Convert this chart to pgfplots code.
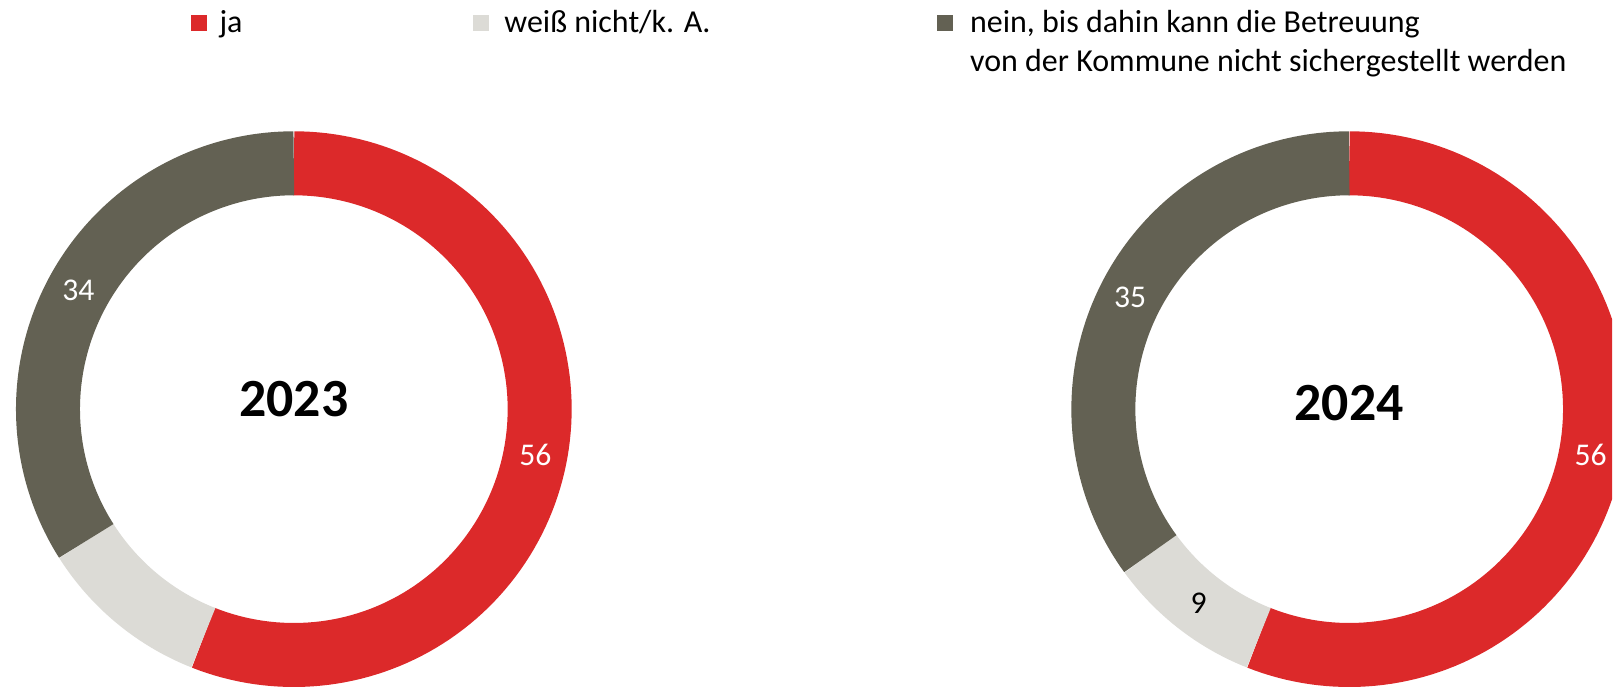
\documentclass[border=0pt]{standalone}
\usepackage{pgfplots}
\pgfplotsset{compat=1.18}
\usepackage{pgfplotstable}
\usepackage{fontspec}
\setmainfont{Carlito}
\definecolor{ja}{RGB}{220,41,42}
\definecolor{wn}{RGB}{220,219,214}
\definecolor{nein}{RGB}{99,97,83}

\pgfplotstableread{
cat y2023 y2024
ja 56 56
wn 10 9
nein 34 35
}\donutdata

\newcommand\getval[3]{\pgfplotstablegetelem{#1}{#2}\of\donutdata\xdef#3{\pgfplotsretval}}

\begin{document}
\begin{tikzpicture}
\getval{0}{y2023}\aJa \getval{1}{y2023}\aWn \getval{2}{y2023}\aNein
\getval{0}{y2024}\bJa \getval{1}{y2024}\bWn \getval{2}{y2024}\bNein
\pgfmathsetmacro\aB{3.6*\aJa}\pgfmathsetmacro\aC{3.6*(\aJa+\aWn)}\pgfmathsetmacro\aD{3.6*(\aJa+\aWn+\aNein)}
\pgfmathsetmacro\bB{3.6*\bJa}\pgfmathsetmacro\bC{3.6*(\bJa+\bWn)}\pgfmathsetmacro\bD{3.6*(\bJa+\bWn+\bNein)}
\pgfmathsetmacro\amJa{\aB/2}\pgfmathsetmacro\amNein{(\aC+\aD)/2}
\pgfmathsetmacro\bmJa{\bB/2}\pgfmathsetmacro\bmWn{(\bB+\bC)/2}\pgfmathsetmacro\bmNein{(\bC+\bD)/2}
\def\R{246}
\def\cxa{294}\def\cxb{1350}\def\cy{279}
\begin{axis}[x=0.01cm,y=0.01cm,xmin=0,xmax=1613,ymin=0,ymax=688,
  hide axis,scale only axis,clip=true]
% 2023
\addplot[ja,line width=0.64cm,domain=0:\aB,samples=120,variable=\t] ({\cxa+\R*sin(\t)},{\cy+\R*cos(\t)});
\addplot[wn,line width=0.64cm,domain=\aB:\aC,samples=40,variable=\t] ({\cxa+\R*sin(\t)},{\cy+\R*cos(\t)});
\addplot[nein,line width=0.64cm,domain=\aC:\aD,samples=100,variable=\t] ({\cxa+\R*sin(\t)},{\cy+\R*cos(\t)});
% 2024
\addplot[ja,line width=0.64cm,domain=0:\bB,samples=120,variable=\t] ({\cxb+\R*sin(\t)},{\cy+\R*cos(\t)});
\addplot[wn,line width=0.64cm,domain=\bB:\bC,samples=40,variable=\t] ({\cxb+\R*sin(\t)},{\cy+\R*cos(\t)});
\addplot[nein,line width=0.64cm,domain=\bC:\bD,samples=100,variable=\t] ({\cxb+\R*sin(\t)},{\cy+\R*cos(\t)});
% value labels
\node[white,font=\fontsize{9}{11}\selectfont] at (axis cs:{\cxa+\R*sin(\amJa)},{\cy+\R*cos(\amJa)}) {\aJa};
\node[white,font=\fontsize{9}{11}\selectfont] at (axis cs:{\cxa+\R*sin(\amNein)},{\cy+\R*cos(\amNein)}) {\aNein};
\node[white,font=\fontsize{9}{11}\selectfont] at (axis cs:{\cxb+\R*sin(\bmJa)},{\cy+\R*cos(\bmJa)}) {\bJa};
\node[black,font=\fontsize{9}{11}\selectfont] at (axis cs:{\cxb+\R*sin(\bmWn)},{\cy+\R*cos(\bmWn)}) {\bWn};
\node[white,font=\fontsize{9}{11}\selectfont] at (axis cs:{\cxb+\R*sin(\bmNein)},{\cy+\R*cos(\bmNein)}) {\bNein};
% years
\node[font=\fontsize{15.3}{18}\selectfont\bfseries] at (axis cs:\cxa,289) {2023};
\node[font=\fontsize{15.3}{18}\selectfont\bfseries] at (axis cs:\cxb,285) {2024};
% legend
\node[fill=ja,minimum size=0.16cm,inner sep=0pt] at (axis cs:199,665) {};
\node[fill=wn,minimum size=0.16cm,inner sep=0pt] at (axis cs:481,665) {};
\node[fill=nein,minimum size=0.16cm,inner sep=0pt] at (axis cs:946,665) {};
\node[anchor=base west,inner sep=0pt,font=\fontsize{9.1}{11}\selectfont] at (axis cs:219,656) {ja};
\node[anchor=base west,inner sep=0pt,font=\fontsize{9.1}{11}\selectfont] at (axis cs:504,656) {weiß nicht/k. A.};
\node[anchor=base west,inner sep=0pt,font=\fontsize{9.1}{11}\selectfont] at (axis cs:970,656) {nein, bis dahin kann die Betreuung};
\node[anchor=base west,inner sep=0pt,font=\fontsize{9.1}{11}\selectfont] at (axis cs:970,617) {von der Kommune nicht sichergestellt werden};
\end{axis}
\pgfresetboundingbox
\path[use as bounding box] (0,0) rectangle (16.13cm,6.88cm);
\end{tikzpicture}
\end{document}
